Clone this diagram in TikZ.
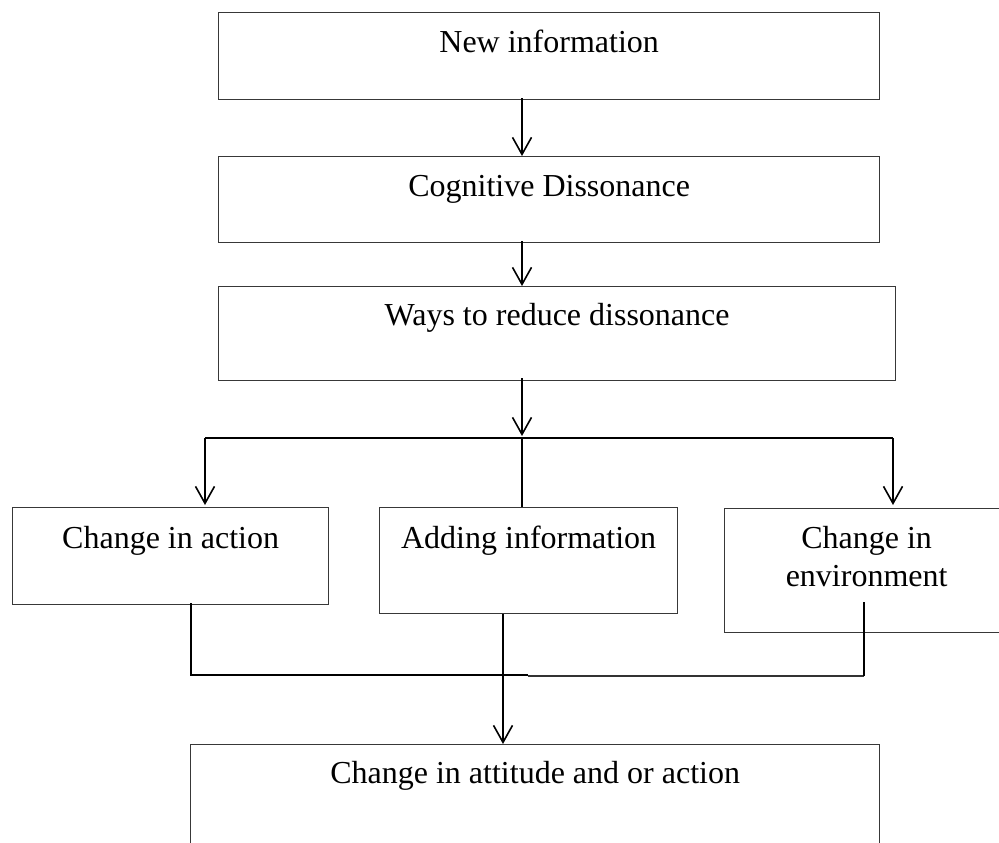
\documentclass[tikz,border=0pt]{standalone}
\usepackage{fontspec}
\setmainfont{Liberation Serif}
\usetikzlibrary{arrows.meta}
\tikzset{
  box/.style={draw=black!78, line width=1.3pt, rectangle, inner sep=0pt, anchor=north west,
              font=\fontsize{32pt}{38pt}\selectfont, align=center},
  link/.style={draw=black, line width=1.8pt},
  arr/.style={link, -{Straight Barb[length=17pt,width=19pt,line width=1.6pt]}}
}
\begin{document}
\begin{tikzpicture}[x=1pt,y=-1pt]
\useasboundingbox (0,0) rectangle (999,843);
% boxes
\node[box, minimum width=661pt, text height=40pt, text depth=47pt] (n1) at (218,12) {New information};
\node[box, minimum width=661pt, text height=40pt, text depth=46pt] (n2) at (218,156) {Cognitive Dissonance};
\node[box, minimum width=677pt, text height=39pt, text depth=55pt] (n3) at (218,286) {Ways to reduce dissonance};
\node[box, minimum width=316pt, text height=41pt, text depth=56pt] (a1) at (12,507) {Change in action};
\node[box, minimum width=298pt, text height=41pt, text depth=65pt] (a2) at (379,507) {Adding information};
\node[box, minimum width=284pt, text height=78pt, text depth=46pt] (a3) at (724,508) {Change in\\environment};
\node[box, minimum width=689pt, text height=39pt, text depth=110pt] (n5) at (190,744) {Change in attitude and or action};
% helper coordinates
\coordinate (t) at (522,438);
\coordinate (jl) at (205,438);
\coordinate (jr) at (893,438);
\coordinate (bl) at (191,675);
\coordinate (bm) at (528,676);
\coordinate (br) at (864,676);
\coordinate (bc) at (503,675);
% top chain
\draw[arr] ([yshift=2pt]n1.south -| t) -- (n2.north -| t);
\draw[arr] ([yshift=2pt]n2.south -| t) -- (n3.north -| t);
\draw[arr] ([yshift=3pt]n3.south -| t) -- ([yshift=2pt]t);
% branch
\draw[link] (jl) -- (jr);
\draw[arr] (jl) -- ([yshift=2pt]a1.north -| jl);
\draw[arr] (jr) -- ([yshift=3pt]a3.north -| jr);
\draw[link] (t) -- (a2.north -| t);
% merge
\draw[link] ([yshift=2pt]a1.south -| bl) -- (bl) -- (bl -| bm);
\draw[draw=black!80, line width=1.3pt] (bm) -- (br);
\draw[link] ([yshift=31pt]a3.south -| br) -- (br);
\draw[arr] (a2.south -| bc) -- (n5.north -| bc);
\end{tikzpicture}
\end{document}
